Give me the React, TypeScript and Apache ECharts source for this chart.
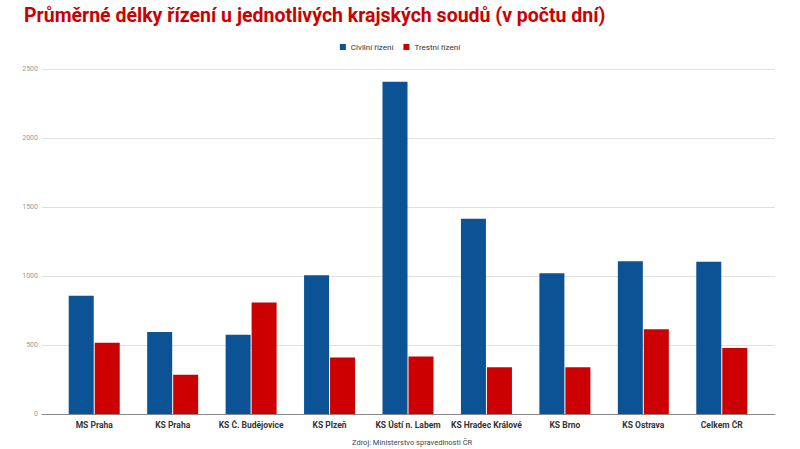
import React, { useEffect, useRef } from 'react';
import * as echarts from 'echarts';

const courts = [
  'MS Praha',
  'KS Praha',
  'KS Č. Budějovice',
  'KS Plzeň',
  'KS Ústí n. Labem',
  'KS Hradec Králové',
  'KS Brno',
  'KS Ostrava',
  'Celkem ČR',
];
const civilni = [856, 595, 575, 1006, 2408, 1415, 1020, 1107, 1103];
const trestni = [517, 285, 808, 409, 416, 339, 339, 614, 479];
const seriesNames = ['Civilní řízení', 'Trestní řízení'];

const BLUE = '#0b5394';
const RED = '#cc0000';
const FONT = 'Roboto';

const App = () => {
  const chartRef = useRef<HTMLDivElement>(null);

  useEffect(() => {
    document.body.style.margin = '0';
    if (!chartRef.current) return;
    const chart = echarts.init(chartRef.current, undefined, { renderer: 'svg' });

    chart.setOption({
      animation: false,
      backgroundColor: '#fff',
      textStyle: { fontFamily: FONT },
      title: {
        text: 'Průměrné délky řízení u jednotlivých krajských soudů (v počtu dní)',
        left: 19,
        top: 0,
        textStyle: { color: RED, fontSize: 19.5, fontWeight: 'bold', fontFamily: FONT },
      },
      legend: {
        data: seriesNames,
        top: 38,
        left: 'center',
        itemWidth: 6,
        itemHeight: 6,
        itemGap: 10,
        icon: 'rect',
        textStyle: { fontSize: 8, color: '#333', fontFamily: FONT },
      },
      grid: [
        { left: 42, right: 25, top: 69, bottom: 35 },
        { left: 55, right: 39, top: 69, bottom: 35 },
      ],
      xAxis: [
        {
          type: 'value',
          gridIndex: 0,
          min: 0,
          max: 1,
          axisLine: { show: true, onZero: false, lineStyle: { color: '#888', width: 1 } },
          axisTick: { show: false },
          axisLabel: { show: false },
          splitLine: { show: false },
        },
        {
          type: 'category',
          gridIndex: 1,
          data: courts,
          axisLine: { show: false },
          axisTick: { show: false },
          axisLabel: {
            interval: 0,
            fontSize: 8.5,
            fontWeight: 'bold',
            color: '#333',
            margin: 6,
            fontFamily: FONT,
          },
        },
      ],
      yAxis: [
        {
          type: 'value',
          gridIndex: 0,
          min: 0,
          max: 2500,
          interval: 500,
          axisLine: { show: false },
          axisTick: { show: false },
          axisLabel: {
            fontSize: 7,
            color: '#999',
            margin: 4,
            fontFamily: FONT,
            formatter: (v: number) => String(v),
          },
          splitLine: { lineStyle: { color: '#e0e0e0', width: 1 } },
        },
        {
          type: 'value',
          gridIndex: 1,
          min: 0,
          max: 2500,
          interval: 500,
          show: false,
          splitLine: { show: false },
        },
      ],
      series: [
        {
          name: seriesNames[0],
          type: 'bar',
          xAxisIndex: 1,
          yAxisIndex: 1,
          data: civilni,
          barWidth: 25,
          barGap: '4%',
          itemStyle: { color: BLUE },
        },
        {
          name: seriesNames[1],
          type: 'bar',
          xAxisIndex: 1,
          yAxisIndex: 1,
          data: trestni,
          barWidth: 25,
          barGap: '4%',
          itemStyle: { color: RED },
        },
      ],
      graphic: [
        {
          type: 'text',
          left: 352,
          top: 438,
          style: {
            text: 'Zdroj: Ministerstvo spravedlnosti ČR',
            fill: '#444',
            fontSize: 7.5,
            fontFamily: FONT,
          },
        },
      ],
    });

    return () => {
      chart.dispose();
    };
  }, []);

  return <div ref={chartRef} style={{ width: 800, height: 449 }} />;
};

export default App;
